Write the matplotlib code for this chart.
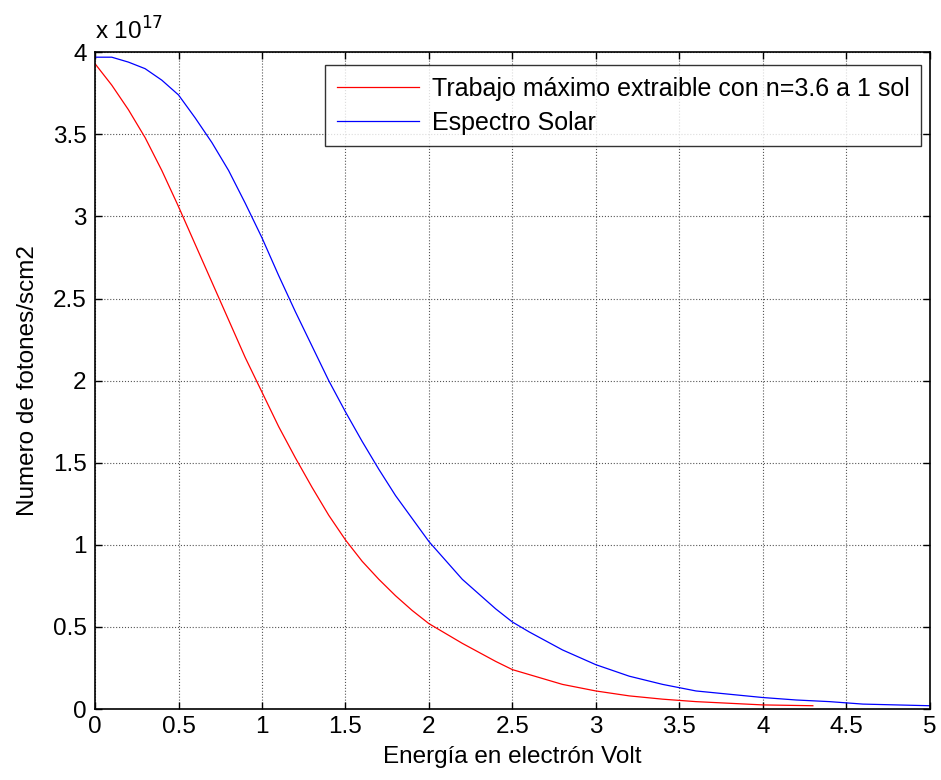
import numpy as np
import matplotlib.pyplot as plt
from matplotlib.ticker import FuncFormatter

plt.rcParams['font.family'] = ['Liberation Sans', 'DejaVu Sans']

# values in units of 1e17 photons/(s cm2)
energy_red = [0, 0.1, 0.2, 0.3, 0.4, 0.5, 0.6, 0.7, 0.8, 0.9, 1.0, 1.1, 1.2, 1.3, 1.4,
              1.5, 1.6, 1.7, 1.8, 1.9, 2.0, 2.2, 2.4, 2.5, 2.6, 2.8, 3.0, 3.2, 3.4,
              3.6, 3.8, 4.0, 4.3]
trabajo = [3.93, 3.80, 3.65, 3.48, 3.28, 3.06, 2.83, 2.60, 2.37, 2.14, 1.93, 1.72, 1.53,
           1.35, 1.18, 1.03, 0.90, 0.79, 0.69, 0.60, 0.52, 0.40, 0.29, 0.24, 0.21, 0.15,
           0.11, 0.08, 0.06, 0.045, 0.035, 0.025, 0.02]

energy_blue = [0, 0.1, 0.2, 0.3, 0.4, 0.5, 0.6, 0.7, 0.8, 0.9, 1.0, 1.1, 1.2, 1.3, 1.4,
               1.5, 1.6, 1.7, 1.8, 1.9, 2.0, 2.2, 2.4, 2.5, 2.6, 2.8, 3.0, 3.2, 3.4,
               3.6, 3.8, 4.0, 4.2, 4.4, 4.6, 4.8, 5.0]
espectro = [3.97, 3.97, 3.94, 3.90, 3.83, 3.74, 3.60, 3.45, 3.28, 3.08, 2.87, 2.64, 2.42,
            2.21, 2.00, 1.81, 1.63, 1.46, 1.30, 1.16, 1.02, 0.79, 0.61, 0.53, 0.47, 0.36,
            0.27, 0.20, 0.15, 0.11, 0.09, 0.07, 0.055, 0.045, 0.03, 0.025, 0.02]

scale = 1e17
fs = 17.5

fig = plt.figure(figsize=(9.41, 7.8), dpi=100)
ax = fig.add_axes([0.101, 0.091, 0.887, 0.842])

ax.plot(energy_red, np.array(trabajo) * scale, color='red', lw=0.9,
        label='Trabajo máximo extraible con n=3.6 a 1 sol')
ax.plot(energy_blue, np.array(espectro) * scale, color='blue', lw=0.9,
        label='Espectro Solar')

ax.set_xlim(0, 5)
ax.set_ylim(0, 4 * scale)
ax.set_xticks(np.arange(0, 5.01, 0.5))
ax.set_yticks(np.arange(0, 4.01, 0.5) * scale)
ax.xaxis.set_major_formatter(FuncFormatter(lambda v, p: f'{v:g}'))
ax.yaxis.set_major_formatter(FuncFormatter(lambda v, p: f'{v / scale:g}'))
ax.tick_params(direction='in', top=True, right=True, length=5, width=1, labelsize=fs)
ax.tick_params(axis='y', pad=6)
ax.tick_params(axis='x', pad=5)
ax.grid(True, linestyle=':', color='#555555', lw=0.8)
for s in ax.spines.values():
    s.set_linewidth(1.2)

ax.text(0, 1.012, r'x 10$^{17}$', transform=ax.transAxes, fontsize=fs,
        ha='left', va='bottom')

ax.set_xlabel('Energía en electrón Volt', fontsize=fs, labelpad=6)
ax.set_ylabel('Numero de fotones/scm2', fontsize=fs, labelpad=10)

leg = ax.legend(loc='upper right', bbox_to_anchor=(0.989, 0.980), borderaxespad=0,
                fontsize=18, frameon=True, fancybox=False, edgecolor='black',
                borderpad=0.45, handlelength=3.3, handletextpad=0.5, labelspacing=0.4)
leg.get_frame().set_linewidth(1.0)

fig.savefig('out.png', dpi=100)
